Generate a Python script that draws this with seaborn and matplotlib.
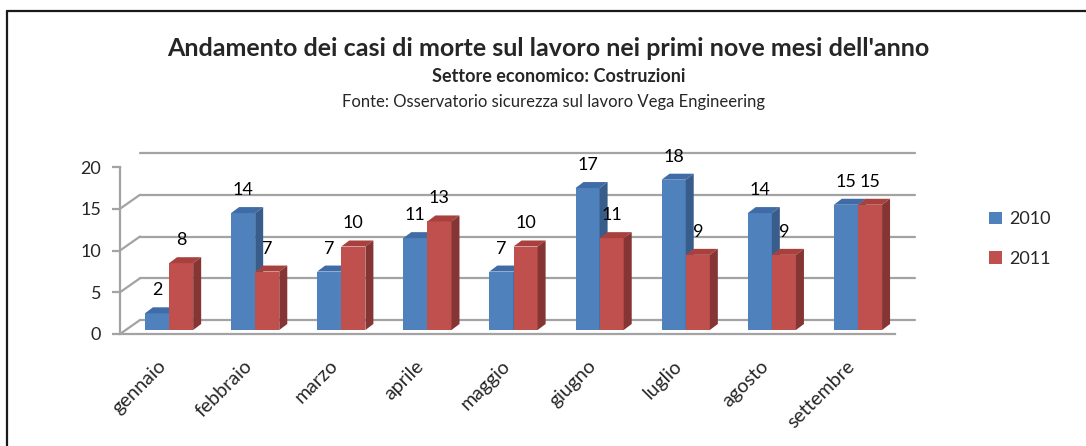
import matplotlib
matplotlib.use("Agg")
import matplotlib.pyplot as plt
import seaborn as sns
import pandas as pd
from matplotlib.patches import Polygon, Patch
from matplotlib.transforms import ScaledTranslation, IdentityTransform
from matplotlib.lines import Line2D

mesi = ['gennaio', 'febbraio', 'marzo', 'aprile', 'maggio',
        'giugno', 'luglio', 'agosto', 'settembre']
anni = ['2010', '2011']
casi_2010 = [2, 14, 7, 11, 7, 17, 18, 14, 15]
casi_2011 = [8, 7, 10, 13, 10, 11, 9, 9, 15]
y_ticks = [0, 5, 10, 15, 20]

titolo = "Andamento dei casi di morte sul lavoro nei primi nove mesi dell'anno"
sottotitolo = "Settore economico: Costruzioni"
fonte = "Fonte: Osservatorio sicurezza sul lavoro Vega Engineering"

df = pd.DataFrame({
    'mese': mesi * 2,
    'anno': [anni[0]] * len(mesi) + [anni[1]] * len(mesi),
    'casi': casi_2010 + casi_2011,
})

# colori stile Excel 2007 (fronte, sopra, lato)
front = ['#4f81bd', '#c0504d']
top = ['#3f6ba6', '#a8413e']
side = ['#385d8a', '#853533']
grid_col = '#a3a3a3'

sns.set_style('white')
plt.rcParams['font.family'] = ['Lato', 'DejaVu Sans']

W, H = 1086, 446
fig = plt.figure(figsize=(W / 100, H / 100), dpi=100)
ax = fig.add_axes([120 / W, (H - 334) / H, 775 / W, (334 - 167) / H])

sns.barplot(data=df, x='mese', y='casi', hue='anno', palette=front,
            width=0.56, gap=0, saturation=1, legend=False, ax=ax,
            linewidth=0, zorder=2)
ax.set_xlim(-0.5, len(mesi) - 0.5)
ax.set_ylim(0, 20)
ax.set_xlabel('')
ax.set_ylabel('')

# profondita (pixel)
wdx, wdy = 20, 14   # pareti
fdx, fdy = 6, 4     # spostamento fronte barre
bdx, bdy = 8, 6     # profondita barre

wall = ax.transData + ScaledTranslation(wdx / 100, wdy / 100, fig.dpi_scale_trans)
x0, x1 = ax.get_xlim()
for v in y_ticks:
    ax.plot([x0, x1], [v, v], color=grid_col, lw=1.6, transform=wall,
            clip_on=False, zorder=1)
    p = ax.transData.transform((x0, v))
    ax.add_line(Line2D([p[0], p[0] + wdx], [p[1], p[1] + wdy], color=grid_col,
                       lw=1.6, transform=IdentityTransform(), zorder=1))
pr = ax.transData.transform((x1, 0))
ax.add_line(Line2D([pr[0], pr[0] + wdx], [pr[1], pr[1] + wdy], color=grid_col,
                   lw=1.6, transform=IdentityTransform(), zorder=1))

shift = ax.transData + ScaledTranslation(fdx / 100, fdy / 100, fig.dpi_scale_trans)
for i, cont in enumerate(ax.containers):
    for bar in cont:
        bar.set_transform(shift)
        bar.set_zorder(2 + i)
        xa, w, h = bar.get_x(), bar.get_width(), bar.get_height()
        (ax0, ay0) = ax.transData.transform((xa, 0)) + (fdx, fdy)
        (ax1, ay1) = ax.transData.transform((xa + w, h)) + (fdx, fdy)
        ax.add_patch(Polygon([(ax0, ay1), (ax1, ay1), (ax1 + bdx, ay1 + bdy),
                              (ax0 + bdx, ay1 + bdy)], closed=True,
                             facecolor=top[i], edgecolor='none',
                             transform=IdentityTransform(), zorder=2.5 + i))
        ax.add_patch(Polygon([(ax1, ay0), (ax1, ay1), (ax1 + bdx, ay1 + bdy),
                              (ax1 + bdx, ay0 + bdy)], closed=True,
                             facecolor=side[i], edgecolor='none',
                             transform=IdentityTransform(), zorder=2.5 + i))
        ax.annotate(f'{h:.0f}', xy=(xa + w / 2, h), xytext=(fdx, fdy + 23),
                    textcoords='offset pixels', ha='center', va='center',
                    fontsize=13, color='black', zorder=5)

for s in ['top', 'right']:
    ax.spines[s].set_visible(False)
for s in ['left', 'bottom']:
    ax.spines[s].set_color(grid_col)
    ax.spines[s].set_linewidth(1.6)
    ax.spines[s].set_zorder(1)

ax.set_yticks(y_ticks)
ax.tick_params(axis='y', left=True, length=5.5, width=1.6, color=grid_col,
               labelsize=13, pad=8)
ax.set_xticks(range(len(mesi)))
ax.set_xticklabels(mesi, rotation=45, ha='right', va='center',
                   rotation_mode='anchor', fontsize=14)
ax.tick_params(axis='x', length=0, pad=21)

handles = [Patch(facecolor=c, edgecolor='none') for c in front]
fig.legend(handles, anni, loc='center left',
           bbox_to_anchor=(973 / W, 1 - 239 / H), frameon=False,
           fontsize=13, handlelength=0.7, handleheight=0.7,
           handletextpad=0.4, labelspacing=1.3)

fig.text(548 / W, 1 - 48 / H, titolo, ha='center', va='center',
         fontsize=18, fontweight='bold')
fig.text(559 / W, 1 - 76 / H, sottotitolo, ha='center', va='center',
         fontsize=13, fontweight='bold')
fig.text(553 / W, 1 - 102 / H, fonte, ha='center', va='center', fontsize=12)

# cornice del grafico
fig.add_artist(Line2D([7 / W, 1], [1 - 11 / H, 1 - 11 / H], color='#1a1a1a',
                      lw=1.6, transform=fig.transFigure))
fig.add_artist(Line2D([7 / W, 7 / W], [0, 1 - 11 / H], color='#1a1a1a',
                      lw=1.6, transform=fig.transFigure))

fig.savefig('out.png', dpi=100)
